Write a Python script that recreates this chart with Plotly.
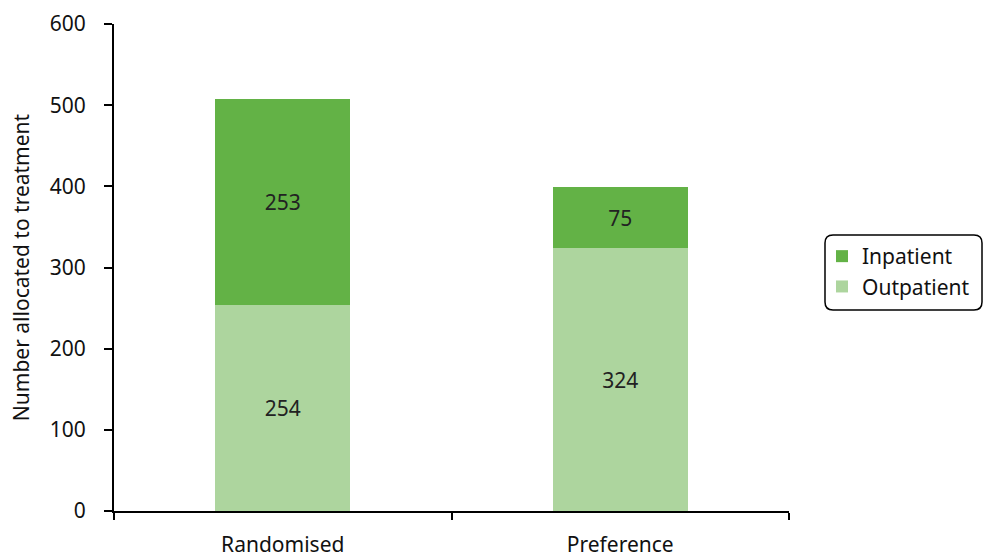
import plotly.graph_objects as go
import re

categories = ["Randomised", "Preference"]
outpatient = [254, 324]
inpatient = [253, 75]
y_ticks = [0, 100, 200, 300, 400, 500, 600]

FONT = "Noto Sans, Open Sans, sans-serif"

fig = go.Figure()
fig.add_trace(go.Bar(
    x=categories, y=outpatient, name="Outpatient",
    marker=dict(color="#add59e", line=dict(width=0)),
    text=outpatient, textposition="inside", insidetextanchor="middle",
    textfont=dict(color="#222222", size=21, family=FONT),
))
fig.add_trace(go.Bar(
    x=categories, y=inpatient, name="Inpatient",
    marker=dict(color="#63b246", line=dict(width=0)),
    text=inpatient, textposition="inside", insidetextanchor="middle",
    textfont=dict(color="#222222", size=21, family=FONT),
))

W, H = 983, 558
L, R, T, B = 114, 194, 24, 47
pw, ph = W - L - R, H - T - B

fig.update_layout(
    barmode="stack",
    bargap=0.6,
    width=W, height=H,
    margin=dict(l=L, r=R, t=T, b=B, autoexpand=False),
    plot_bgcolor="white", paper_bgcolor="white",
    font=dict(family=FONT, size=21, color="#111111"),
    uniformtext=dict(minsize=21, mode="show"),
    showlegend=True,
    legend=dict(
        x=(822 - L) / pw, y=1 - (236 - T) / ph, xanchor="left", yanchor="top",
        traceorder="reversed",
        font=dict(size=21, family=FONT, color="#111111"),
        bgcolor="rgba(0,0,0,0)", borderwidth=0,
        itemwidth=30, tracegroupgap=0,
    ),
    xaxis=dict(
        showline=True, linecolor="black", linewidth=2,
        ticks="outside", ticklen=7, tickwidth=1.5, tickcolor="black",
        tickson="boundaries", showgrid=False,
        ticklabelstandoff=14, automargin=False,
        tickfont=dict(size=21, family=FONT),
    ),
    yaxis=dict(
        range=[0, 600], tickvals=y_ticks,
        showline=True, linecolor="black", linewidth=2,
        ticks="outside", ticklen=8, tickwidth=1.5, tickcolor="black",
        showgrid=False, zeroline=False, automargin=False,
        ticklabelstandoff=14,
        title=dict(text="Number allocated to treatment", font=dict(size=21, family=FONT), standoff=14),
        tickfont=dict(size=21, family=FONT),
    ),
)

# rounded legend border
x0, x1, y0, y1, r = 825, 982, 235, 310, 8
path = (f"M {x0+r},{y0} L {x1-r},{y0} Q {x1},{y0} {x1},{y0+r} L {x1},{y1-r} Q {x1},{y1} {x1-r},{y1} "
        f"L {x0+r},{y1} Q {x0},{y1} {x0},{y1-r} L {x0},{y0+r} Q {x0},{y0} {x0+r},{y0} Z")
def conv(m):
    return f"{(float(m.group(1)) - L) / pw:.5f},{1 - (float(m.group(2)) - T) / ph:.5f}"
path_paper = re.sub(r"([\d.]+),([\d.]+)", conv, path)
fig.add_shape(type="path", path=path_paper, xref="paper", yref="paper",
              line=dict(color="black", width=1.5), fillcolor="rgba(0,0,0,0)")

fig.write_html("out.html")
